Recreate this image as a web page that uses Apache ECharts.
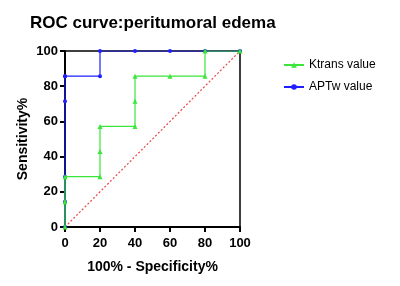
<!DOCTYPE html>
<html>
<head>
<meta charset="utf-8">
<script src="https://cdn.jsdelivr.net/npm/echarts@6/dist/echarts.min.js"></script>
<style>
  html, body { margin: 0; padding: 0; background: #fff; }
  #roc-chart { width: 400px; height: 286px; }
</style>
</head>
<body>
<div id="roc-chart"></div>
<script>
// ROC points: [100% - specificity, sensitivity]
let ktransX = [0, 0, 0, 20, 20, 20, 40, 40, 40, 60, 80, 80, 100];
let ktransY = [0, 14.29, 28.57, 28.57, 42.86, 57.14, 57.14, 71.43, 85.71, 85.71, 85.71, 100, 100];
let aptwX = [0, 0, 0, 0, 0, 0, 20, 20, 40, 60, 80, 100];
let aptwY = [0, 14.29, 28.57, 71.43, 85.71, 85.71, 85.71, 100, 100, 100, 100, 100];
let refLine = [[0, 0], [100, 100]];

let pair = (xs, ys) => xs.map((x, i) => [x, ys[i]]);

let myChart = echarts.init(document.getElementById('roc-chart'));

myChart.setOption({
  animation: false,
  textStyle: { fontFamily: 'Liberation Sans, Arial, sans-serif' },
  title: {
    text: 'ROC curve:peritumoral edema',
    left: 25,
    top: 10,
    textStyle: { fontSize: 17, fontWeight: 'bold', color: '#000' }
  },
  legend: {
    orient: 'vertical',
    left: 278,
    top: 54,
    itemGap: 10,
    itemWidth: 20,
    itemHeight: 7,
    data: ['Ktrans value', 'APTw value'],
    textStyle: { fontSize: 12, color: '#000' }
  },
  grid: {
    left: 65,
    right: 160,
    top: 51,
    bottom: 59,
    show: true,
    borderColor: '#000',
    borderWidth: 1.5
  },
  xAxis: {
    type: 'value',
    min: 0,
    max: 100,
    interval: 20,
    name: '100% - Specificity%',
    nameLocation: 'middle',
    nameGap: 33,
    nameTextStyle: { fontSize: 14, fontWeight: 'bold', color: '#000' },
    axisLine: { lineStyle: { color: '#000', width: 2 } },
    axisTick: { length: 5, lineStyle: { color: '#000', width: 2 } },
    axisLabel: { fontSize: 13, fontWeight: 'bold', color: '#000', margin: 10 },
    splitLine: { show: false }
  },
  yAxis: {
    type: 'value',
    min: 0,
    max: 100,
    interval: 20,
    name: 'Sensitivity%',
    nameLocation: 'middle',
    nameGap: 35,
    nameTextStyle: { fontSize: 14, fontWeight: 'bold', color: '#000' },
    axisLine: { lineStyle: { color: '#000', width: 2 } },
    axisTick: { length: 5, lineStyle: { color: '#000', width: 2 } },
    axisLabel: { fontSize: 13, fontWeight: 'bold', color: '#000', margin: 7 },
    splitLine: { show: false }
  },
  series: [
    {
      name: 'reference',
      type: 'line',
      data: refLine,
      symbol: 'none',
      silent: true,
      lineStyle: { color: '#e8464a', width: 1.2, type: [2, 2] },
      z: 1
    },
    {
      name: 'APTw value',
      type: 'line',
      data: pair(aptwX, aptwY),
      symbol: 'circle',
      symbolSize: 4,
      itemStyle: { color: '#1f1fff' },
      lineStyle: { color: '#1f1fff', width: 1.2 },
      z: 2
    },
    {
      name: 'Ktrans value',
      type: 'line',
      data: pair(ktransX, ktransY),
      symbol: 'triangle',
      symbolSize: 5,
      itemStyle: { color: '#3ae63a' },
      lineStyle: { color: '#3ae63a', width: 1.2 },
      z: 3
    }
  ]
});
</script>
</body>
</html>
